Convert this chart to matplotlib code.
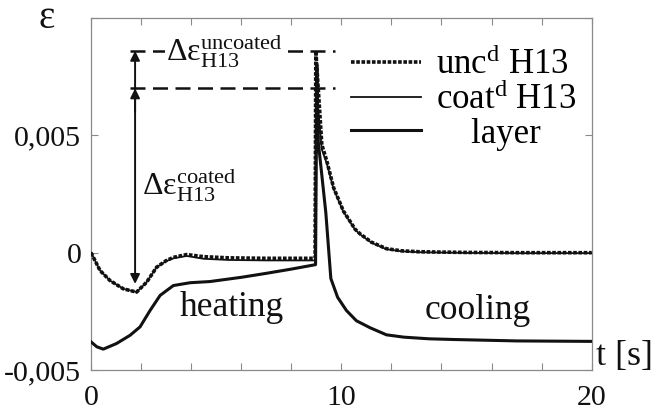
import numpy as np
import matplotlib
matplotlib.use('Agg')
import matplotlib.pyplot as plt

matplotlib.rcParams['font.family'] = ['Liberation Serif', 'DejaVu Serif']
matplotlib.rcParams['mathtext.fontset'] = 'custom'
matplotlib.rcParams['mathtext.rm'] = 'Liberation Serif'
matplotlib.rcParams['mathtext.it'] = 'Liberation Serif:italic'
matplotlib.rcParams['mathtext.bf'] = 'Liberation Serif:bold'

# uncoated H13 (dotted)
t_unc = [0, 0.36, 0.76, 1.29, 1.82, 2.22, 2.62, 3.0, 3.29, 3.82, 4.5, 5.5, 7.0, 8.95,
         8.98, 9.1, 9.22, 9.42, 9.69, 10.08, 10.55, 10.75, 11.2, 11.8, 12.4, 13.1, 15, 17, 20]
eps_unc = [0, -0.00076, -0.00119, -0.00154, -0.00168, -0.00126, -0.00062, -0.00034, -0.0002,
           -0.00008, -0.00017, -0.00022, -0.00024, -0.00024,
           0.0086, 0.0066, 0.0046, 0.0039, 0.00277, 0.00178, 0.001, 0.0008, 0.00045, 0.00017,
           0.00008, 0.00004, 0.00001, 0.0, 0.0]

# coated H13 (thin solid)
t_coat = [0, 0.36, 0.76, 1.29, 1.82, 2.22, 2.62, 3.0, 3.29, 3.82, 4.5, 5.5, 7.0, 8.95,
          8.98, 9.1, 9.22, 9.42, 9.69, 10.08, 10.55, 10.75, 11.2, 11.8, 12.4, 13.1, 15, 17, 20]
eps_coat = [0, -0.00076, -0.00119, -0.00154, -0.00168, -0.00126, -0.00062, -0.00036, -0.00024,
            -0.00014, -0.00026, -0.00031, -0.00033, -0.00033,
            0.0070, 0.0058, 0.0044, 0.0038, 0.00272, 0.00175, 0.00098, 0.00078, 0.00043, 0.00015,
            0.00006, 0.00002, -0.00001, -0.00002, -0.00002]

# coating layer (thick solid)
t_lay = [0, 0.23, 0.49, 1.02, 1.56, 1.96, 2.36, 2.76, 3.29, 3.96, 4.75, 6.0, 7.0, 8.0, 8.97,
         9.02, 9.08, 9.38, 9.58, 9.85, 10.2, 10.6, 11.15, 11.8, 12.5, 13.5, 14.5, 17, 20]
eps_lay = [-0.0038, -0.00401, -0.00411, -0.00387, -0.00352, -0.00316, -0.00246, -0.00182,
           -0.0014, -0.00128, -0.00123, -0.00105, -0.00088, -0.0007, -0.00051,
           0.0080, 0.0047, 0.0017, -0.0011, -0.0019, -0.00246, -0.0029, -0.0032, -0.0035,
           -0.0036, -0.00367, -0.0037, -0.00376, -0.00378]

labels = ['unc$^{\\mathrm{d}}$ H13', 'coat$^{\\mathrm{d}}$ H13', '    layer']
x_ticks = [0, 2, 4, 6, 8, 10, 12, 14, 16, 18, 20]
x_tick_labels = ['0', '', '', '', '', '10', '', '', '', '', '20']
y_ticks = [-0.005, 0, 0.005, 0.01]
y_tick_labels = ['-0,005', '0', '0,005', '']

ink = '#111111'
frame = '#8a8a8a'

fig = plt.figure(figsize=(6.53, 4.12), dpi=100)
ax = fig.add_axes([0.1394, 0.1019, 0.7667, 0.8544])

ax.plot(t_unc, eps_unc, color=ink, lw=2.6, linestyle=(0, (1, 0.45)), label=labels[0], zorder=3)
ax.plot(t_coat, eps_coat, color=ink, lw=1.3, label=labels[1], zorder=4)
ax.plot(t_lay, eps_lay, color=ink, lw=2.2, label=labels[2], zorder=4)

ax.set_xlim(0, 20)
ax.set_ylim(-0.005, 0.01)
ax.set_xticks(x_ticks)
ax.set_xticklabels(x_tick_labels)
ax.set_yticks(y_ticks)
ax.set_yticklabels(y_tick_labels)
ax.tick_params(axis='both', direction='in', length=5, width=0.8, color=frame,
               top=True, right=True, labelsize=21.5, labelcolor=ink)
ax.tick_params(axis='x', pad=11)
ax.tick_params(axis='y', pad=7)
for s in ax.spines.values():
    s.set_color(frame)
    s.set_linewidth(0.9)

# peak / minimum markers
unc_max = max(eps_unc)
coat_max = max(eps_coat)
unc_min = min(eps_unc)
x_arrow = 1.76
ax.hlines([unc_max, coat_max], 1.56, 9.75, colors=ink, lw=1.8, linestyles=[(0, (6, 3))], zorder=2)
ax.annotate('', xy=(x_arrow, unc_min + 0.00035), xytext=(x_arrow, unc_max),
            arrowprops=dict(arrowstyle='<|-|>', color=ink, lw=1.4, mutation_scale=14,
                            shrinkA=0, shrinkB=0))
ax.annotate('', xy=(x_arrow, coat_max), xytext=(x_arrow, coat_max - 0.001),
            arrowprops=dict(arrowstyle='-|>', color=ink, lw=1.4, mutation_scale=14,
                            shrinkA=0, shrinkB=0))

ax.text(3.0, unc_max, '$\\mathrm{Δε}^{\\mathrm{uncoated}}_{\\mathrm{H13}}$', fontsize=23,
        ha='left', va='center', color=ink, zorder=5,
        bbox=dict(facecolor='white', edgecolor='none', pad=1))
ax.text(2.05, 0.0029, '$\\mathrm{Δε}^{\\mathrm{coated}}_{\\mathrm{H13}}$', fontsize=23,
        ha='left', va='center', color=ink)

ax.text(5.63, -0.00232, 'heating', fontsize=25.5, ha='center', va='center', color=ink)
ax.text(15.44, -0.00246, 'cooling', fontsize=25.5, ha='center', va='center', color=ink)

fig.text(47 / 653, 1 - 18 / 412, 'ε', fontsize=28, ha='center', va='center', color=ink)
fig.text(596 / 653, 1 - 357 / 412, 't [s]', fontsize=26, ha='left', va='center', color=ink)

ax.legend(loc='upper left', bbox_to_anchor=(0.52, 0.915), frameon=False, fontsize=25,
          handlelength=2.0, handletextpad=0.45, labelspacing=0.02, borderpad=0,
          borderaxespad=0)

fig.savefig('out.png', dpi=100)
